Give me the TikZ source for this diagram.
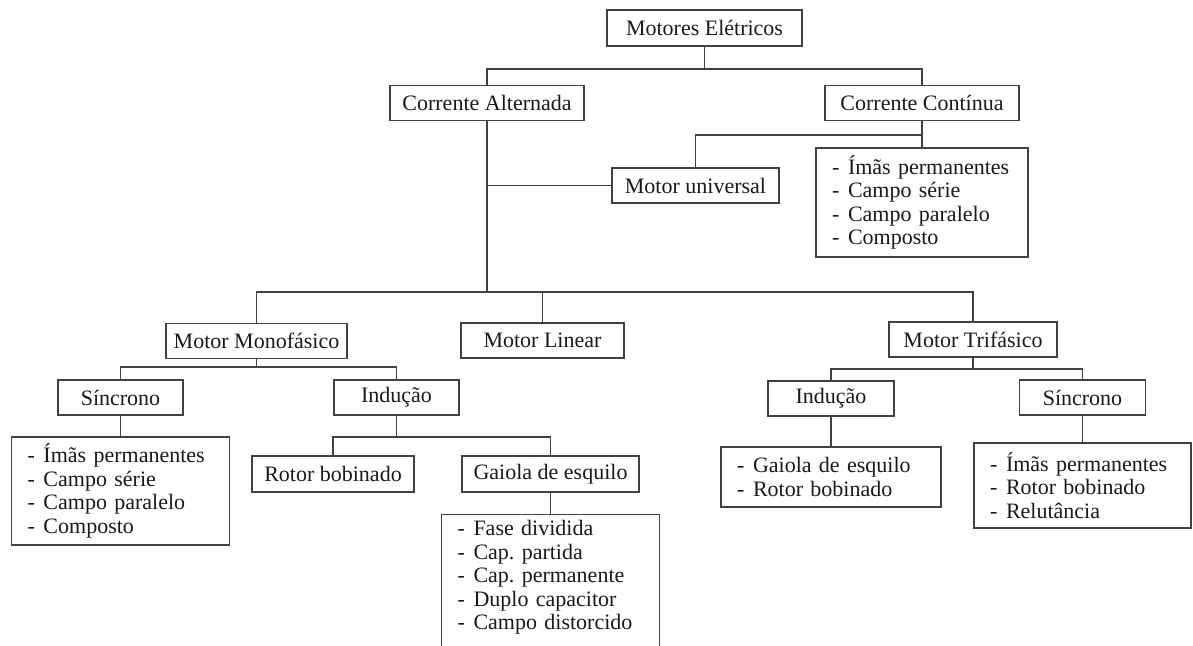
\documentclass[tikz,border=0pt]{standalone}
\usepackage{fontspec}
\setmainfont{Liberation Serif}
\usepackage{tikz}
\definecolor{linec}{RGB}{65,65,65}
\definecolor{txt}{RGB}{25,25,25}
\tikzset{
	box/.style={draw=linec, line width=0.7pt, text=txt, inner sep=0pt, minimum height=17.5pt},
	lst/.style={draw=linec, line width=0.7pt, text=txt, inner xsep=8pt, inner ysep=3pt, align=left},
	link/.style={draw=linec, line width=0.7pt}
}
\newcommand{\itm}[1]{\makebox[8pt][l]{-}#1}
\frenchspacing

\begin{document}
\begin{tikzpicture}[x=0.5pt,y=-0.5pt,font={\fontsize{11}{11.75}\selectfont}]
	\useasboundingbox (0,0) rectangle (1193,646);
	\clip (0,0) rectangle (1193,646);
	% top levels
	\node[box,minimum width=97.5pt,minimum height=18pt] (mot) at (704.5,28) {Motores Elétricos};
	\node[box,minimum width=97pt] (ca) at (487,103) {Corrente Alternada};
	\node[box,minimum width=97pt] (cc) at (922,103) {Corrente Contínua};
	\node[box,minimum width=83.5pt] (univ) at (695.5,185.5) {Motor universal};
	\node[lst,text width=90pt,minimum height=54.5pt] (cclist) at (922,202.5) {\itm{Ímãs permanentes}\\ \itm{Campo série}\\ \itm{Campo paralelo}\\ \itm{Composto}};
	\node[box,minimum width=90.5pt] (mono) at (256.5,341) {Motor Monofásico};
	\node[box,minimum width=81.5pt] (lin) at (542.5,340.5) {Motor Linear};
	\node[box,minimum width=84pt] (tri) at (973,339.5) {Motor Trifásico};
	% monofasico
	\node[box,minimum width=62.5pt] (sin1) at (120.5,397.5) {Síncrono};
	\node[box,minimum width=62.5pt] (ind1) at (396.5,397.5) {Indução};
	\node[lst,text width=93pt,minimum height=54pt] (lst1) at (120.5,491) {\itm{Ímãs permanentes}\\ \itm{Campo série}\\ \itm{Campo paralelo}\\ \itm{Composto}};
	\node[box,minimum width=81pt,minimum height=18pt] (rot) at (333,474) {Rotor bobinado};
	\node[box,minimum width=88.5pt,minimum height=18pt] (gai) at (550.5,474) {Gaiola de esquilo};
	\node[lst,text width=93pt,text height=7.5pt,text depth=80pt,anchor=north] (lst2) at (550.5,514) {\itm{Fase dividida}\\ \itm{Cap. partida}\\ \itm{Cap. permanente}\\ \itm{Duplo capacitor}\\ \itm{Campo distorcido}};
	% trifasico
	\node[box,minimum width=63pt] (ind2) at (831,398.5) {Indução};
	\node[box,minimum width=63pt] (sin2) at (1082.5,397.5) {Síncrono};
	\node[lst,text width=94pt,minimum height=30pt] (lst3) at (831,477) {\itm{Gaiola de esquilo}\\ \itm{Rotor bobinado}};
	\node[lst,text width=92.5pt,minimum height=42.5pt] (lst4) at (1082.5,485.5) {\itm{Ímãs permanentes}\\ \itm{Rotor bobinado}\\ \itm{Relutância}};
	% connectors
	\coordinate (j1) at (704.5,69);
	\coordinate (j2) at (922,135);
	\coordinate (j3) at (487,292);
	\coordinate (j4) at (256.5,367);
	\coordinate (j5) at (396.5,437);
	\coordinate (j6) at (973,369);
	\draw[link] (mot) -- (j1);
	\draw[link] (ca) |- (j1) -| (cc);
	\draw[link] (cc) -- (cclist);
	\draw[link] (j2) -| (univ);
	\draw[link] (ca) -- (j3);
	\draw[link] (ca |- univ) -- (univ);
	\draw[link] (mono) |- (j3) -| (tri);
	\draw[link] (lin) -- (lin |- j3);
	\draw[link] (mono) -- (j4);
	\draw[link] (sin1) |- (j4) -| (ind1);
	\draw[link] (sin1) -- (lst1);
	\draw[link] (ind1) -- (j5);
	\draw[link] (rot) |- (j5) -| (gai);
	\draw[link] (gai) -- (lst2);
	\draw[link] (tri) -- (j6);
	\draw[link] (ind2) |- (j6) -| (sin2);
	\draw[link] (ind2) -- (lst3);
	\draw[link] (sin2) -- (lst4);
\end{tikzpicture}
\end{document}
